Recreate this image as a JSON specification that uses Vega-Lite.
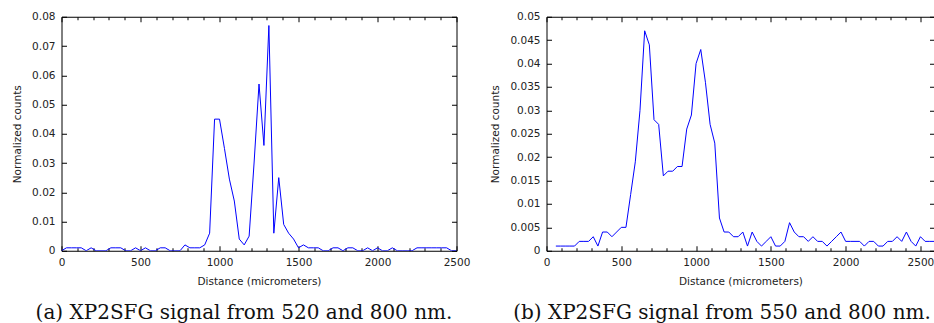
{
  "$schema": "https://vega.github.io/schema/vega-lite/v6.json",
  "padding": {"left": 11.5, "top": 10.75, "right": 0, "bottom": 0},
  "spacing": 19,
  "resolve": {"scale": {"x": "independent", "y": "independent"}, "axis": {"x": "independent", "y": "independent"}},
  "config": {
    "view": {"stroke": "#000000", "strokeWidth": 1},
    "font": "DejaVu Sans",
    "axis": {
      "grid": false,
      "domain": false,
      "labelFlush": false,
      "labelFont": "DejaVu Sans",
      "labelFontSize": 10.5,
      "labelColor": "#222222",
      "titleFont": "DejaVu Sans",
      "titleFontSize": 10.5,
      "titleFontWeight": "normal",
      "titleColor": "#222222",
      "tickColor": "#000000",
      "tickWidth": 1,
      "labelOverlap": false
    },
    "title": {"font": "DejaVu Serif", "fontSize": 20, "fontWeight": "normal", "color": "#111111"}
  },
  "hconcat": [
    {
      "width": 395,
      "height": 234,
      "title": {"text": "(a) XP2SFG signal from 520 and 800 nm.", "orient": "bottom", "anchor": "middle", "frame": "group", "offset": 16, "dx": -15},
      "data": {"values": [
        {"d": 0, "v": 0}, {"d": 31.25, "v": 0.001}, {"d": 62.5, "v": 0.001}, {"d": 93.75, "v": 0.001}, {"d": 125, "v": 0.001},
        {"d": 156.25, "v": 0}, {"d": 187.5, "v": 0.001}, {"d": 218.75, "v": 0}, {"d": 250, "v": 0}, {"d": 281.25, "v": 0},
        {"d": 312.5, "v": 0.001}, {"d": 343.75, "v": 0.001}, {"d": 375, "v": 0.001}, {"d": 406.25, "v": 0}, {"d": 437.5, "v": 0},
        {"d": 468.75, "v": 0.001}, {"d": 500, "v": 0}, {"d": 531.25, "v": 0.001}, {"d": 562.5, "v": 0}, {"d": 593.75, "v": 0},
        {"d": 625, "v": 0.001}, {"d": 656.25, "v": 0.001}, {"d": 687.5, "v": 0}, {"d": 718.75, "v": 0}, {"d": 750, "v": 0},
        {"d": 781.25, "v": 0.002}, {"d": 812.5, "v": 0.001}, {"d": 843.75, "v": 0.001}, {"d": 875, "v": 0.001}, {"d": 906.25, "v": 0.002},
        {"d": 937.5, "v": 0.006}, {"d": 968.75, "v": 0.045}, {"d": 1000, "v": 0.045}, {"d": 1031.25, "v": 0.035}, {"d": 1062.5, "v": 0.0245},
        {"d": 1093.75, "v": 0.017}, {"d": 1125, "v": 0.004}, {"d": 1156.25, "v": 0.002}, {"d": 1187.5, "v": 0.005}, {"d": 1218.75, "v": 0.03},
        {"d": 1250, "v": 0.057}, {"d": 1281.25, "v": 0.036}, {"d": 1312.5, "v": 0.077}, {"d": 1343.75, "v": 0.006}, {"d": 1375, "v": 0.025},
        {"d": 1406.25, "v": 0.009}, {"d": 1437.5, "v": 0.006}, {"d": 1468.75, "v": 0.004}, {"d": 1500, "v": 0.001}, {"d": 1531.25, "v": 0.002},
        {"d": 1562.5, "v": 0.001}, {"d": 1593.75, "v": 0.001}, {"d": 1625, "v": 0.001}, {"d": 1656.25, "v": 0}, {"d": 1687.5, "v": 0},
        {"d": 1718.75, "v": 0.001}, {"d": 1750, "v": 0.001}, {"d": 1781.25, "v": 0}, {"d": 1812.5, "v": 0.001}, {"d": 1843.75, "v": 0.001},
        {"d": 1875, "v": 0}, {"d": 1906.25, "v": 0}, {"d": 1937.5, "v": 0.001}, {"d": 1968.75, "v": 0}, {"d": 2000, "v": 0.001},
        {"d": 2031.25, "v": 0}, {"d": 2062.5, "v": 0}, {"d": 2093.75, "v": 0.001}, {"d": 2125, "v": 0}, {"d": 2156.25, "v": 0},
        {"d": 2187.5, "v": 0}, {"d": 2218.75, "v": 0}, {"d": 2250, "v": 0.001}, {"d": 2281.25, "v": 0.001}, {"d": 2312.5, "v": 0.001},
        {"d": 2343.75, "v": 0.001}, {"d": 2375, "v": 0.001}, {"d": 2406.25, "v": 0.001}, {"d": 2437.5, "v": 0.001}, {"d": 2468.75, "v": 0},
        {"d": 2500, "v": 0}
      ]},
      "layer": [
        {
          "mark": {"type": "line", "color": "#0000ff", "strokeWidth": 1, "clip": true},
          "encoding": {
            "x": {"field": "d", "type": "quantitative", "scale": {"domain": [0, 2500], "nice": false, "zero": false},
              "axis": {"orient": "bottom", "values": [0, 500, 1000, 1500, 2000, 2500], "format": "d", "ticks": false, "tickSize": 0, "labelPadding": 6.5, "title": "Distance (micrometers)", "titlePadding": 9}},
            "y": {"field": "v", "type": "quantitative", "scale": {"domain": [0, 0.08], "nice": false, "zero": false},
              "axis": {"orient": "left", "values": [0, 0.01, 0.02, 0.03, 0.04, 0.05, 0.06, 0.07, 0.08], "format": "~g", "ticks": false, "tickSize": 0, "labelPadding": 6.5, "title": "Normalized counts", "titlePadding": 9}}
          }
        },
        {
          "mark": {"type": "line", "opacity": 0},
          "encoding": {
            "x": {"field": "d", "type": "quantitative",
              "axis": {"orient": "bottom", "labels": false, "title": null, "values": [0,100,200,300,400,500,600,700,800,900,1000,1100,1200,1300,1400,1500,1600,1700,1800,1900,2000,2100,2200,2300,2400,2500],
                "tickSize": {"condition": {"test": "datum.value % 500 === 0", "value": -5}, "value": -3}}},
            "y": {"field": "v", "type": "quantitative",
              "axis": {"orient": "left", "labels": false, "title": null, "values": [0, 0.01, 0.02, 0.03, 0.04, 0.05, 0.06, 0.07, 0.08], "tickSize": -5}}
          }
        },
        {
          "mark": {"type": "line", "opacity": 0},
          "encoding": {
            "x": {"field": "d", "type": "quantitative",
              "axis": {"orient": "top", "labels": false, "title": null, "values": [0,100,200,300,400,500,600,700,800,900,1000,1100,1200,1300,1400,1500,1600,1700,1800,1900,2000,2100,2200,2300,2400,2500],
                "tickSize": {"condition": {"test": "datum.value % 500 === 0", "value": -5}, "value": -3}}},
            "y": {"field": "v", "type": "quantitative",
              "axis": {"orient": "right", "labels": false, "title": null, "values": [0, 0.01, 0.02, 0.03, 0.04, 0.05, 0.06, 0.07, 0.08], "tickSize": -5}}
          }
        }
      ],
      "resolve": {"axis": {"x": "independent", "y": "independent"}}
    },
    {
      "width": 388,
      "height": 234,
      "title": {"text": "(b) XP2SFG signal from 550 and 800 nm.", "orient": "bottom", "anchor": "middle", "frame": "group", "offset": 16, "dx": -18.5},
      "data": {"values": [
        {"d": 62.5, "v": 0.001}, {"d": 93.75, "v": 0.001}, {"d": 125, "v": 0.001}, {"d": 156.25, "v": 0.001}, {"d": 187.5, "v": 0.001},
        {"d": 218.75, "v": 0.002}, {"d": 250, "v": 0.002}, {"d": 281.25, "v": 0.002}, {"d": 312.5, "v": 0.003}, {"d": 343.75, "v": 0.001},
        {"d": 375, "v": 0.004}, {"d": 406.25, "v": 0.004}, {"d": 437.5, "v": 0.003}, {"d": 468.75, "v": 0.004}, {"d": 500, "v": 0.005},
        {"d": 531.25, "v": 0.005}, {"d": 562.5, "v": 0.012}, {"d": 593.75, "v": 0.019}, {"d": 625, "v": 0.03}, {"d": 656.25, "v": 0.047},
        {"d": 687.5, "v": 0.044}, {"d": 718.75, "v": 0.028}, {"d": 750, "v": 0.027}, {"d": 781.25, "v": 0.016}, {"d": 812.5, "v": 0.017},
        {"d": 843.75, "v": 0.017}, {"d": 875, "v": 0.018}, {"d": 906.25, "v": 0.018}, {"d": 937.5, "v": 0.026}, {"d": 968.75, "v": 0.029},
        {"d": 1000, "v": 0.04}, {"d": 1031.25, "v": 0.043}, {"d": 1062.5, "v": 0.036}, {"d": 1093.75, "v": 0.027}, {"d": 1125, "v": 0.023},
        {"d": 1156.25, "v": 0.007}, {"d": 1187.5, "v": 0.004}, {"d": 1218.75, "v": 0.004}, {"d": 1250, "v": 0.003}, {"d": 1281.25, "v": 0.003},
        {"d": 1312.5, "v": 0.004}, {"d": 1343.75, "v": 0.001}, {"d": 1375, "v": 0.004}, {"d": 1406.25, "v": 0.002}, {"d": 1437.5, "v": 0.001},
        {"d": 1468.75, "v": 0.002}, {"d": 1500, "v": 0.003}, {"d": 1531.25, "v": 0.001}, {"d": 1562.5, "v": 0.001}, {"d": 1593.75, "v": 0.002},
        {"d": 1625, "v": 0.006}, {"d": 1656.25, "v": 0.004}, {"d": 1687.5, "v": 0.003}, {"d": 1718.75, "v": 0.003}, {"d": 1750, "v": 0.002},
        {"d": 1781.25, "v": 0.003}, {"d": 1812.5, "v": 0.002}, {"d": 1843.75, "v": 0.002}, {"d": 1875, "v": 0.001}, {"d": 1906.25, "v": 0.002},
        {"d": 1937.5, "v": 0.003}, {"d": 1968.75, "v": 0.004}, {"d": 2000, "v": 0.002}, {"d": 2031.25, "v": 0.002}, {"d": 2062.5, "v": 0.002},
        {"d": 2093.75, "v": 0.002}, {"d": 2125, "v": 0.001}, {"d": 2156.25, "v": 0.002}, {"d": 2187.5, "v": 0.002}, {"d": 2218.75, "v": 0.001},
        {"d": 2250, "v": 0.001}, {"d": 2281.25, "v": 0.002}, {"d": 2312.5, "v": 0.002}, {"d": 2343.75, "v": 0.003}, {"d": 2375, "v": 0.002},
        {"d": 2406.25, "v": 0.004}, {"d": 2437.5, "v": 0.002}, {"d": 2468.75, "v": 0.001}, {"d": 2500, "v": 0.003}, {"d": 2531.25, "v": 0.002},
        {"d": 2562.5, "v": 0.002}, {"d": 2593.75, "v": 0.002}
      ]},
      "layer": [
        {
          "mark": {"type": "line", "color": "#0000ff", "strokeWidth": 1, "clip": true},
          "encoding": {
            "x": {"field": "d", "type": "quantitative", "scale": {"domain": [0, 2594], "nice": false, "zero": false},
              "axis": {"orient": "bottom", "values": [0, 500, 1000, 1500, 2000, 2500], "format": "d", "ticks": false, "tickSize": 0, "labelPadding": 6.5, "title": "Distance (micrometers)", "titlePadding": 9}},
            "y": {"field": "v", "type": "quantitative", "scale": {"domain": [0, 0.05], "nice": false, "zero": false},
              "axis": {"orient": "left", "values": [0, 0.005, 0.01, 0.015, 0.02, 0.025, 0.03, 0.035, 0.04, 0.045, 0.05], "format": "~g", "ticks": false, "tickSize": 0, "labelPadding": 6.5, "title": "Normalized counts", "titlePadding": 9}}
          }
        },
        {
          "mark": {"type": "line", "opacity": 0, "clip": true},
          "encoding": {
            "x": {"field": "d", "type": "quantitative",
              "axis": {"orient": "bottom", "labels": false, "title": null, "values": [0,100,200,300,400,500,600,700,800,900,1000,1100,1200,1300,1400,1500,1600,1700,1800,1900,2000,2100,2200,2300,2400,2500],
                "tickSize": {"condition": {"test": "datum.value % 500 === 0", "value": -5}, "value": -3}}},
            "y": {"field": "v", "type": "quantitative",
              "axis": {"orient": "left", "labels": false, "title": null, "values": [0, 0.005, 0.01, 0.015, 0.02, 0.025, 0.03, 0.035, 0.04, 0.045, 0.05], "tickSize": -5}}
          }
        },
        {
          "mark": {"type": "line", "opacity": 0, "clip": true},
          "encoding": {
            "x": {"field": "d", "type": "quantitative",
              "axis": {"orient": "top", "labels": false, "title": null, "values": [0,100,200,300,400,500,600,700,800,900,1000,1100,1200,1300,1400,1500,1600,1700,1800,1900,2000,2100,2200,2300,2400,2500],
                "tickSize": {"condition": {"test": "datum.value % 500 === 0", "value": -5}, "value": -3}}},
            "y": {"field": "v", "type": "quantitative",
              "axis": {"orient": "right", "labels": false, "title": null, "values": [0, 0.005, 0.01, 0.015, 0.02, 0.025, 0.03, 0.035, 0.04, 0.045, 0.05], "tickSize": -5}}
          }
        }
      ],
      "resolve": {"axis": {"x": "independent", "y": "independent"}}
    }
  ]
}
